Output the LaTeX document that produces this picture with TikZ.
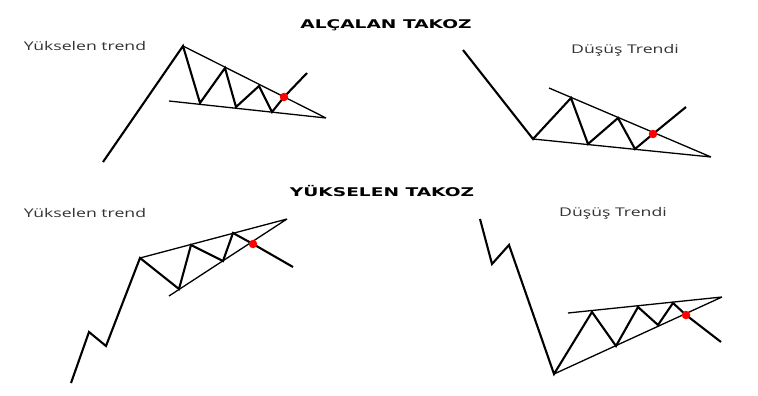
\documentclass[tikz,border=0pt]{standalone}
\usepackage{fontspec}
\setmainfont{Open Sans}
\newfontfamily\titlefont{DejaVu Sans}
\begin{document}
\begin{tikzpicture}[x=1pt,y=-1pt,
  zig/.style={line width=2.1pt,line join=miter,line cap=butt},
  rail/.style={line width=1.3pt},
  brk/.style={circle,fill=red,inner sep=0pt,minimum size=8.5pt},
  lbl/.style={font=\fontsize{12}{14}\selectfont,text=black!80,inner sep=0pt,xscale=1.47},
  ttl/.style={font=\titlefont\bfseries\fontsize{12}{14}\selectfont,inner sep=0pt,xscale=1.55}]
\useasboundingbox[fill=white] (0,0) rectangle (758,396);
% titles and labels
\node[ttl] (t1) at (386,25) {ALÇALAN TAKOZ};
\node[ttl] (t2) at (382,191) {YÜKSELEN TAKOZ};
\node[lbl] (l1) at (85,46) {Yükselen trend};
\node[lbl] (l2) at (625,50) {Düşüş Trendi};
\node[lbl] (l3) at (85,213) {Yükselen trend};
\node[lbl] (l4) at (613,213) {Düşüş Trendi};
% ---- panel 1
\coordinate (a0) at (103,162); \coordinate (a1) at (183,46);
\coordinate (a2) at (200,103); \coordinate (a3) at (225,68);
\coordinate (a4) at (236,107); \coordinate (a5) at (259,86);
\coordinate (a6) at (272,112); \coordinate (a7) at (284,97);
\coordinate (a8) at (307,73);
\coordinate (aL) at (169,101); \coordinate (aE) at (326,118);
\draw[rail] (a1) -- (aE) (aL) -- (aE);
\draw[zig] (a0) -- (a1) -- (a2) -- (a3) -- (a4) -- (a5) -- (a6) -- (a7) -- (a8);
\node[brk] (ad) at (a7) {};
% ---- panel 2
\coordinate (b0) at (463,50); \coordinate (b1) at (533,139);
\coordinate (b2) at (571,98); \coordinate (b3) at (588,144);
\coordinate (b4) at (618,118); \coordinate (b5) at (635,149);
\coordinate (b6) at (653,134); \coordinate (b7) at (686,107);
\coordinate (bU) at (549,88); \coordinate (bE) at (711,157);
\draw[rail] (b1) -- (bE) (bU) -- (bE);
\draw[zig] (b0) -- (b1) -- (b2) -- (b3) -- (b4) -- (b5) -- (b6) -- (b7);
\node[brk] (bd) at (b6) {};
% ---- panel 3
\coordinate (c0) at (71,383); \coordinate (c1) at (89,332);
\coordinate (c2) at (106,346); \coordinate (c3) at (140,258);
\coordinate (c4) at (179,289); \coordinate (c5) at (191,245);
\coordinate (c6) at (223,261); \coordinate (c7) at (233,233);
\coordinate (c8) at (253,244); \coordinate (c9) at (293,267);
\coordinate (cL) at (169,296); \coordinate (cE) at (287,219);
\draw[rail] (c3) -- (cE) (cL) -- (cE);
\draw[zig] (c0) -- (c1) -- (c2) -- (c3) -- (c4) -- (c5) -- (c6) -- (c7) -- (c8) -- (c9);
\node[brk] (cd) at (c8) {};
% ---- panel 4
\coordinate (d0) at (480,219); \coordinate (d1) at (492,264);
\coordinate (d2) at (509,245); \coordinate (d3) at (554,374);
\coordinate (d4) at (592,312); \coordinate (d5) at (616,346);
\coordinate (d6) at (638,307); \coordinate (d7) at (658,325);
\coordinate (d8) at (673,303); \coordinate (d9) at (686,315);
\coordinate (d10) at (721,342);
\coordinate (dU) at (568,313); \coordinate (dE) at (722,297);
\draw[rail] (d3) -- (dE) (dU) -- (dE);
\draw[zig] (d0) -- (d1) -- (d2) -- (d3) -- (d4) -- (d5) -- (d6) -- (d7) -- (d8) -- (d9) -- (d10);
\node[brk] (dd) at (d9) {};
\end{tikzpicture}
\end{document}
